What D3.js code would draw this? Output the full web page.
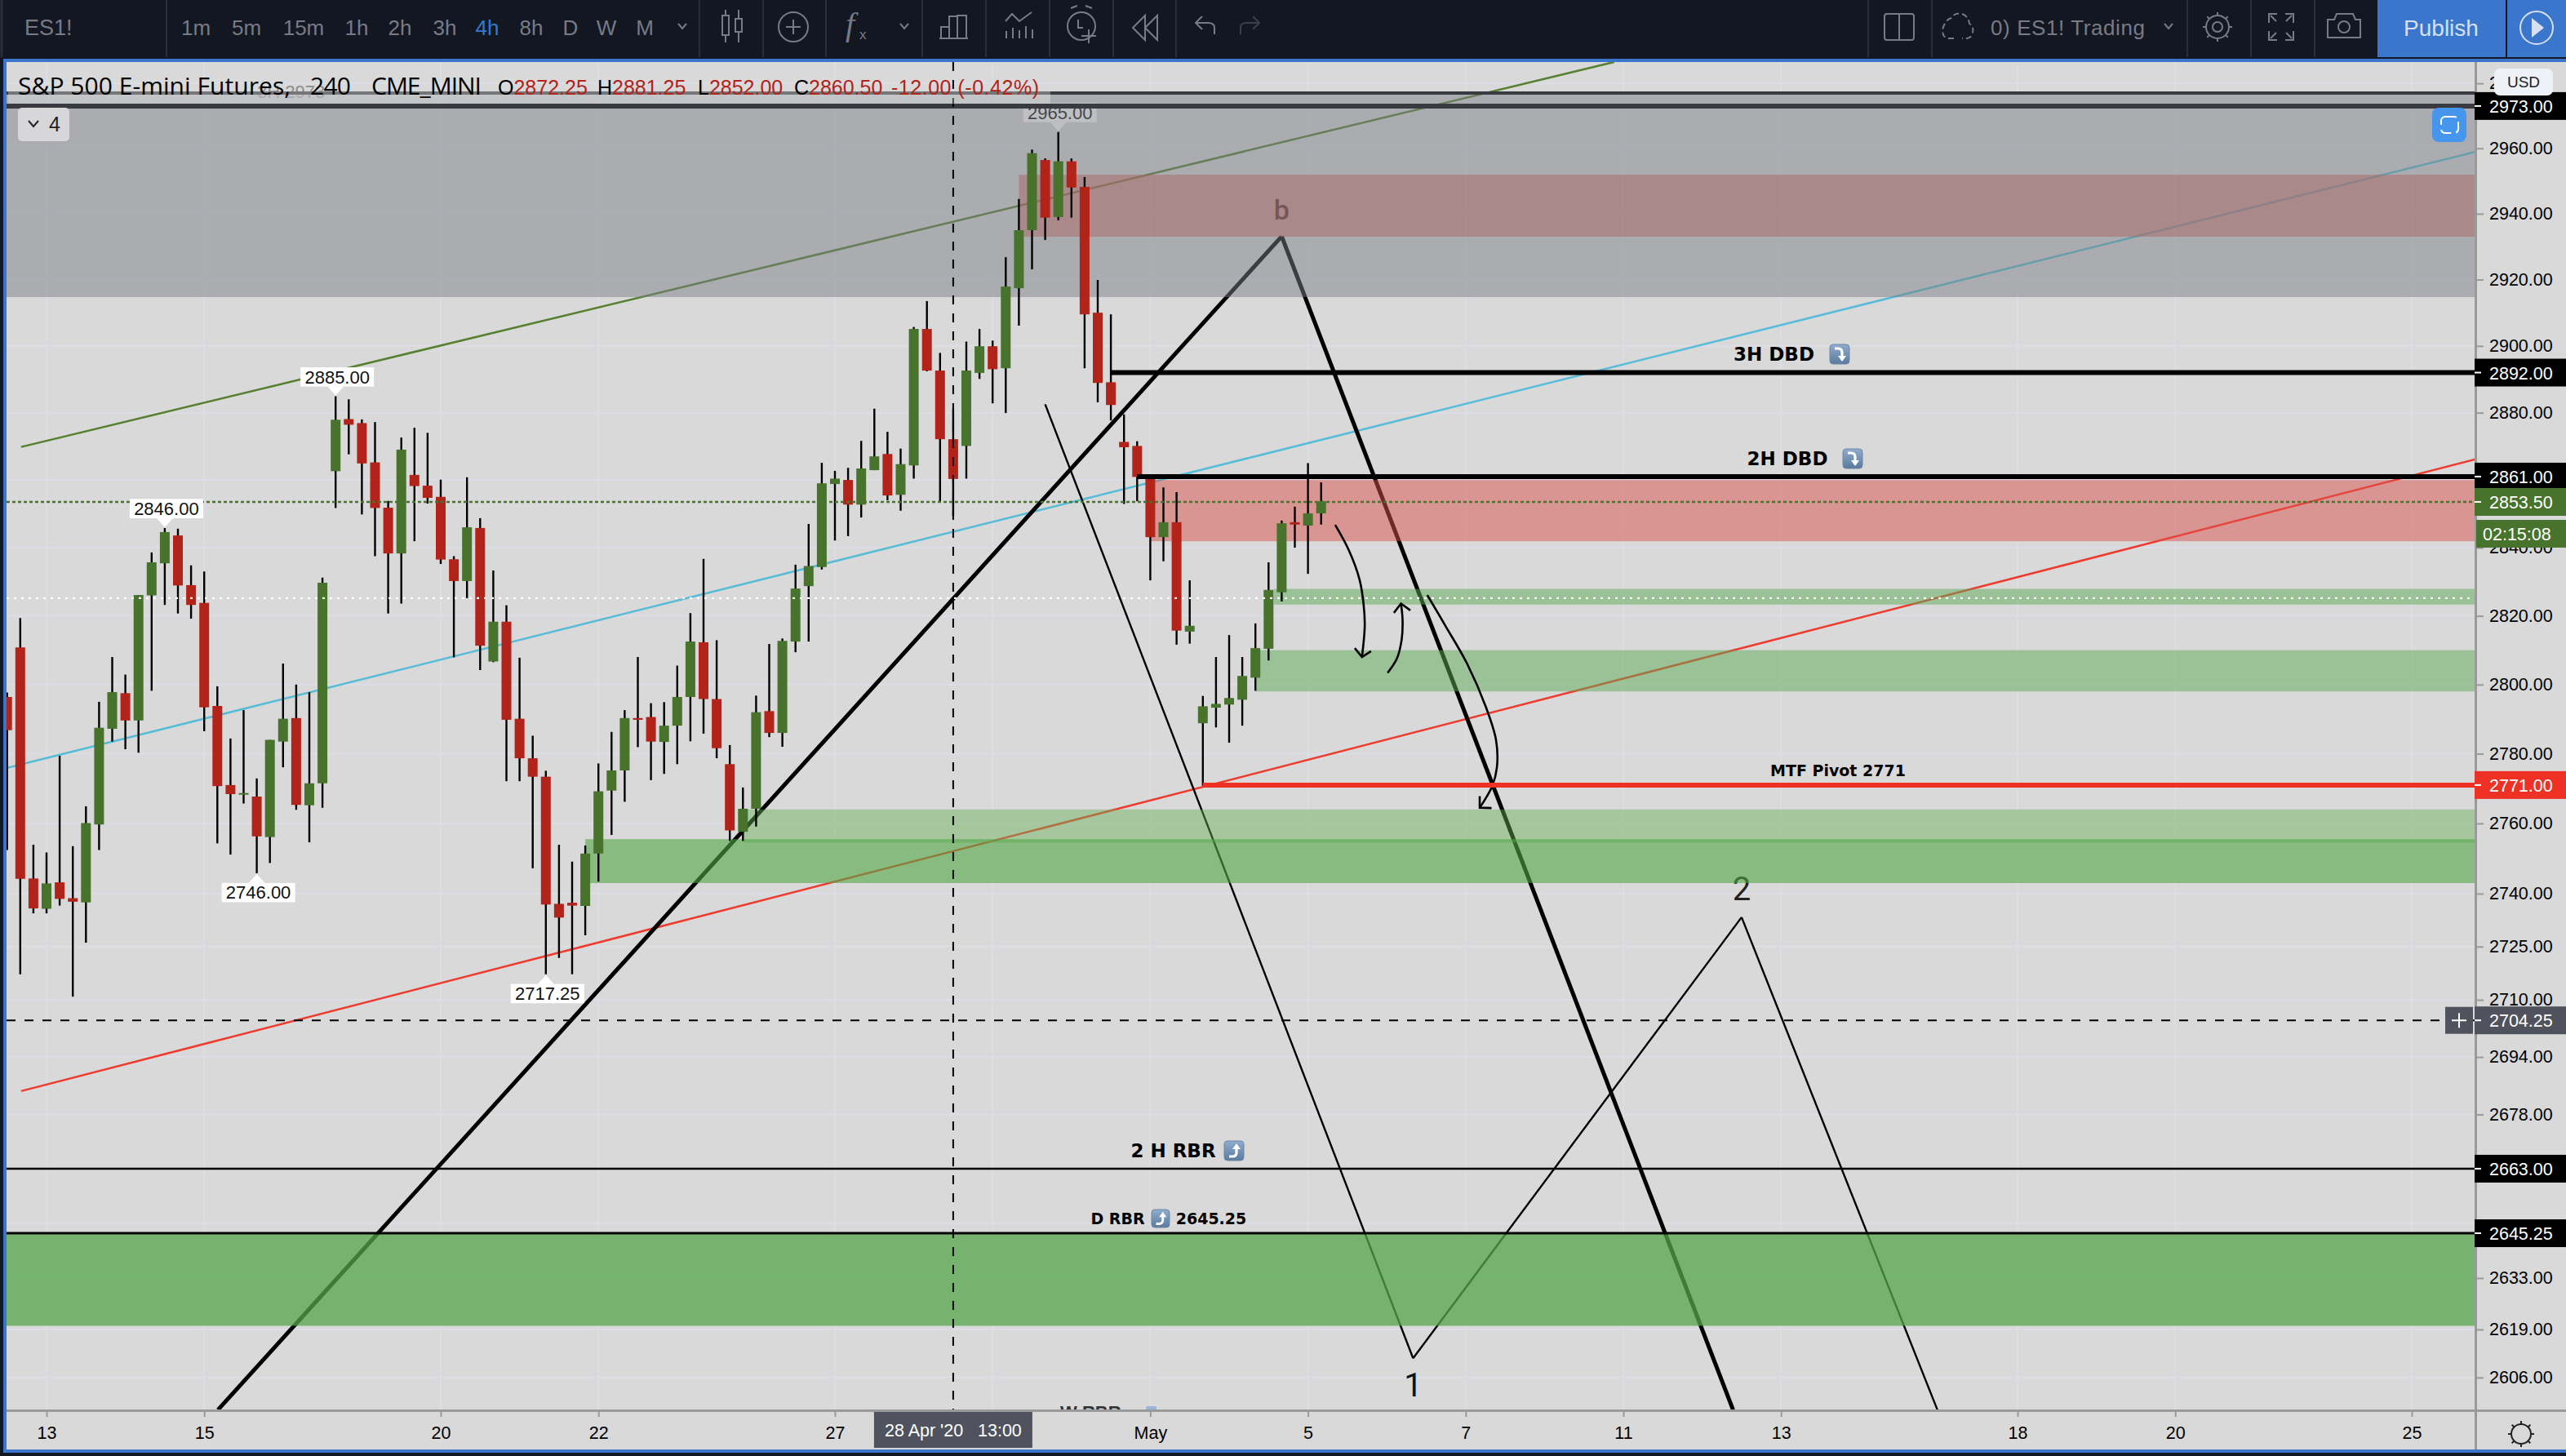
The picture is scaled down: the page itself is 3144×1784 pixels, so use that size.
<!DOCTYPE html>
<html><head><meta charset="utf-8">
<script src="https://cdn.jsdelivr.net/npm/d3@7"></script>
<style>html,body{margin:0;padding:0;background:#131722;overflow:hidden}svg{display:block;font-family:"Liberation Sans",Arial,sans-serif}</style>
</head><body><svg id="c" width="3144" height="1784"></svg>
<script>
const opens=[2796.4,2810.8,2744.3,2735.7,2743.2,2738.7,2737.5,2759.7,2787.2,2797.5,2789.6,2826,2835.4,2843.6,2829,2823.8,2793.8,2771,2768.5,2767.7,2756.1,2783.5,2790.3,2765.2,2771.5,2862.6,2878.1,2876.9,2865.2,2851.8,2838.3,2861.5,2858.3,2855,2836.6,2830.2,2845.8,2806.7,2818.3,2790.1,2778.7,2773.4,2737.1,2737.4,2736.5,2751.4,2769.4,2775.2,2790.3,2790.6,2783.4,2788.1,2796.4,2812.3,2795.8,2777,2757.6,2764.2,2792.3,2786,2812.5,2828.7,2834.3,2858.8,2860,2852.7,2862.9,2867.7,2855.6,2864.3,2905.1,2892.6,2872.1,2870.1,2891.9,2899.9,2893.3,2917.4,2935,2956.4,2939,2956,2948.2,2910,2889.1,2871.3,2870.1,2861.4,2843.1,2847.5,2815.4,2788.8,2793.3,2794.2,2795.6,2802,2810.4,2826.9,2847.5,2846.5,2850.1];
const highs=[2797.7,2819.4,2753.9,2751.7,2779.4,2753.5,2764.9,2795,2808,2802.9,2826.1,2838.6,2845.8,2845.6,2834.8,2833,2799.5,2784.4,2792.6,2772.9,2784,2806.1,2800,2797.8,2831.2,2884.9,2884,2878,2877.2,2853.8,2872.6,2875.5,2874,2860.1,2837.5,2860.8,2848.7,2833.3,2823.1,2807.8,2785.2,2775.1,2753.9,2749.1,2753.7,2777.2,2786.3,2792.6,2808,2794.6,2794.9,2805.5,2820.8,2836.7,2812.9,2782.5,2770.3,2796.8,2811.8,2813.4,2835,2847,2865.1,2862.7,2863.6,2871.6,2881.2,2874.3,2869.3,2905.7,2913.5,2897.9,2881,2901.3,2905.1,2901.6,2926.8,2944.5,2959.6,2956.9,2965,2956.9,2951.2,2919.9,2909.5,2879.5,2871.5,2861.6,2857.8,2856.4,2830.4,2796.7,2808,2814.4,2808,2817.8,2835.7,2848,2852.1,2865,2859.3];
const lows=[2752.4,2717.2,2734.4,2734.4,2736.6,2710.9,2726.1,2752.4,2783.5,2781.3,2780.3,2798.2,2823.2,2820.7,2819.2,2786.5,2754.3,2751.1,2765.7,2745.8,2748.7,2776.1,2763.9,2754.6,2764.5,2851.7,2867.6,2849.8,2837.5,2820.7,2823.6,2841.9,2853,2835.2,2807.9,2825.2,2804.2,2806.5,2772.1,2772.1,2747.2,2717.2,2721.8,2717.2,2728.2,2743.4,2756.7,2766.2,2781.9,2772.4,2774.2,2777,2783.6,2785.8,2778.7,2755,2755,2759.1,2784.8,2782,2809.4,2812.5,2833.6,2842.1,2843.4,2848.9,2862.9,2854,2850.9,2860.4,2892.4,2853.5,2849.4,2860.4,2890.1,2882.8,2879.9,2906.1,2923.1,2932,2938,2938.8,2893.3,2883.1,2877.7,2852.9,2853.7,2830.4,2836,2811.6,2811.9,2770.8,2787.6,2783.2,2788.1,2798.2,2807,2824.2,2840,2832.3,2846.8];
const closes=[2786.8,2744.2,2735.8,2742.9,2738.5,2737.7,2760.1,2787.5,2797.8,2789.6,2826.1,2835.7,2844.6,2828.9,2823.2,2793.4,2770.7,2768.4,2768.7,2756.3,2784,2790.1,2765.3,2771.5,2829.7,2877.9,2876.4,2864.9,2851.7,2838.3,2869,2858.2,2854.7,2836.5,2830.2,2846,2811.3,2818.3,2789.8,2778.7,2773.4,2736.9,2733.2,2736.6,2751.4,2769.2,2775.2,2790.3,2789.8,2783.5,2788.1,2796.4,2812.5,2795.8,2781.6,2758,2764.2,2792,2786,2812.7,2828,2834.6,2859,2860.4,2852.7,2863.4,2867,2855.4,2864.7,2905.1,2892.6,2872.1,2860.3,2892.6,2899.9,2893,2917.9,2935,2958.5,2938.8,2956,2948,2909.5,2888.9,2882.3,2869.7,2860.9,2843.1,2847.5,2815.7,2817.1,2793.7,2794.4,2796.1,2802.5,2810.6,2827.6,2847.2,2846.8,2850.1,2853.7];

const priceTicks=[2980,2960,2940,2920,2900,2880,2860,2840,2820,2800,2780,2760,2740,2725,2710,2694,2678,2663,2648,2633,2619,2606];
const coveredTicks=[2860,2663,2648];
const timeBars=[3,15,33,45,63,75,87,99,111,123,135,153,165,183];
const timeLabels=["13","15","20","22","27","","May","5","7","11","13","18","20","25"];

const bandStart=[77,87,96.4,95,56,44,-1];
const bandHigh=[2951.9,2860,2827.9,2810,2764,2755.5,2645];
const bandLow=[2933,2841.9,2823.3,2798,2754.5,2743,2620];
const bandFill=["rgba(218,82,76,.5)","rgba(218,82,76,.5)","rgba(93,169,83,.5)","rgba(93,169,83,.5)","rgba(104,175,84,.45)","rgba(80,167,67,.6)","rgba(83,165,73,.75)"];
const greyZone=[2976.8,2914.7];

const lineBar0=[1.07,-0.04,1.07,16.05,97,79,107,132];
const linePrice0=[2869.8,2775.9,2684.5,2597.3,2933.1,2882.5,2611.2,2733.3];
const lineBar1=[122.3,187.8,187.8,97,131.35,107,132,146.9];
const linePrice1=[2986.6,2958.9,2866.1,2933.1,2597.3,2611.2,2733.3,2597.3];
const lineColor=["#55802f","#57bcd7","#ee3b2e","#000","#000","#000","#000","#000"];
const lineWeight=[2.5,2.5,2.5,5,5,2.4,2.4,2.4];

const levelPrice=[2892,2861,2771,2663,2645.25];
const levelStart=[84,86,91,-1,-1];
const levelColor=["#000","#000","#ee3124","#000","#000"];
const levelWeight=[6,6,6,2.4,3];

const arrowBars=[[101.07,102.09,102.92,103.23,103.32,103.11],[105.06,105.77,106.13,106.2,106.08],[108.08,109.46,111.12,112.55,113.31,113.38,113.02,112.07]];
const arrowPrices=[[2846.7,2839.4,2830.7,2823.5,2817.1,2808],[2803.4,2807.6,2813.1,2818.7,2823.6],[2826.1,2817.1,2806,2793.4,2784,2776.1,2770.7,2764.5]];
const headBars=[[102.56,103.11,103.8],[105.54,106.08,106.79],[112.07,112.07,112.97]];
const headPrices=[[2810.6,2808,2809.7],[2820.9,2823.6,2821.6],[2767.8,2764.5,2764.4]];

const calloutBar=[25,12,19,41];
const calloutKind=["high","high","low","low"];
const calloutText=["2885.00","2846.00","2746.00","2717.25"];

const tagPrice=[2973,2892,2861,2853.5,2771,2704.25,2663,2645.25];
const tagFill=["#000","#000","#000","#47732d","#ee3124","#50535e","#000","#000"];

const crossBar=72, crossPrice=2704.25, lastPrice=2853.5, whitePrice=2825.2;
const topLines=[2977,2973];

const L=8,R=3032,T=76,B=1728;
const x=d3.scaleLinear().domain([0,183]).range([8.7,2955]);
const y=d3.scaleLog().domain([2606,2960]).range([1687.8,181.7]);
const svg=d3.select("#c");
const defs=svg.append("defs");
defs.append("clipPath").attr("id","pane").append("rect").attr("x",L).attr("y",T).attr("width",R-L).attr("height",B-T);
const grad=defs.append("linearGradient").attr("id","emoji").attr("x1",0).attr("y1",0).attr("x2",0).attr("y2",1);
grad.append("stop").attr("offset",0).attr("stop-color","#8fadcc");
grad.append("stop").attr("offset",1).attr("stop-color","#5a7a9f");

svg.append("rect").attr("width",3144).attr("height",1784).attr("fill","#131722");
svg.append("rect").attr("x",4).attr("y",72).attr("width",3140).attr("height",1708).attr("fill","#3a77cc");
svg.append("rect").attr("x",L).attr("y",T).attr("width",3144-L).attr("height",1776-T).attr("fill","#d9d9d9");

const pane=svg.append("g").attr("clip-path","url(#pane)");
pane.append("g").selectAll("line").data(priceTicks).join("line").attr("x1",L).attr("x2",R).attr("y1",d=>y(d)).attr("y2",d=>y(d)).attr("stroke","#dcdde5").attr("stroke-width",2);
pane.append("g").selectAll("line").data(timeBars).join("line").attr("x1",d=>x(d)).attr("x2",d=>x(d)).attr("y1",T).attr("y2",B).attr("stroke","#dcdde5").attr("stroke-width",2);

pane.append("text").attr("x",315).attr("y",120).attr("font-size",22).attr("fill","#8d8d90").text("3H 2973");

const tools=pane.append("g");
tools.selectAll("line").data(lineColor).join("line")
 .attr("x1",(d,i)=>x(lineBar0[i])).attr("y1",(d,i)=>y(linePrice0[i]))
 .attr("x2",(d,i)=>x(lineBar1[i])).attr("y2",(d,i)=>y(linePrice1[i]))
 .attr("stroke",d=>d).attr("stroke-width",(d,i)=>lineWeight[i]).attr("stroke-linejoin","round");
tools.append("text").attr("x",x(97)).attr("y",y(2933.1)-21).attr("text-anchor","middle").attr("font-size",34).attr("font-weight",500).attr("fill","#111").attr("font-family","Roboto").text("b");
tools.append("text").attr("x",x(107)).attr("y",1711).attr("text-anchor","middle").attr("font-size",40).attr("fill","#111").attr("font-family","Roboto").text("1");
tools.append("text").attr("x",x(132)).attr("y",1103).attr("text-anchor","middle").attr("font-size",40).attr("fill","#222").attr("font-family","Roboto").text("2");

pane.append("g").selectAll("rect").data(bandFill).join("rect")
 .attr("x",(d,i)=>x(bandStart[i])).attr("width",(d,i)=>R-x(bandStart[i]))
 .attr("y",(d,i)=>y(bandHigh[i])).attr("height",(d,i)=>y(bandLow[i])-y(bandHigh[i])).attr("fill",d=>d);

function callout(g,bar,kind,txt,price){
 const cx=x(bar), tip=kind==="high"?y(price)-1:y(price)+1, s=kind==="high"?-1:1;
 g.append("path").attr("d",`M${cx} ${tip}l-10 ${s*11}h20z`).attr("fill","#fff");
 const top=kind==="high"?tip-11-23.5:tip+11;
 g.append("rect").attr("x",cx+2-45).attr("y",top).attr("width",90).attr("height",23.5).attr("fill","#fff");
 g.append("text").attr("x",cx+2).attr("y",top+19.5).attr("text-anchor","middle").attr("font-size",22).attr("fill","#111").text(txt);
}
callout(pane,80,"high","2965.00",highs[80]);

pane.append("rect").attr("x",L).attr("width",R-L).attr("y",y(greyZone[0])).attr("height",y(greyZone[1])-y(greyZone[0])).attr("fill","rgba(122,124,130,.49)");
pane.append("g").selectAll("line").data(topLines).join("line").attr("x1",L).attr("x2",R).attr("y1",d=>y(d)).attr("y2",d=>y(d)).attr("stroke","#3a3b40").attr("stroke-width",(d,i)=>i?6:4);

const arrowLine=d3.line().x(d=>x(d[0])).y(d=>y(d[1])).curve(d3.curveCatmullRom);
const headLine=d3.line().x(d=>x(d[0])).y(d=>y(d[1]));
pane.append("g").selectAll("path").data(arrowBars).join("path").attr("fill","none").attr("stroke","#000").attr("stroke-width",2.6)
 .attr("d",(d,i)=>arrowLine(d3.zip(d,arrowPrices[i])));
pane.append("g").selectAll("path").data(headBars).join("path").attr("fill","none").attr("stroke","#000").attr("stroke-width",2.6)
 .attr("d",(d,i)=>headLine(d3.zip(d,headPrices[i])));

const bars=pane.append("g");
bars.selectAll("line").data(opens).join("line").attr("x1",(d,i)=>x(i)).attr("x2",(d,i)=>x(i))
 .attr("y1",(d,i)=>y(highs[i])).attr("y2",(d,i)=>y(lows[i])).attr("stroke","#000").attr("stroke-width",2.4);
bars.selectAll("rect").data(opens).join("rect").attr("x",(d,i)=>x(i)-6).attr("width",12)
 .attr("y",(d,i)=>y(Math.max(d,closes[i])))
 .attr("height",(d,i)=>Math.max(2,Math.abs(y(d)-y(closes[i]))))
 .attr("fill",(d,i)=>closes[i]>=d?"#47732d":"#b2231a");

pane.append("g").selectAll("line").data(levelPrice).join("line").attr("x1",(d,i)=>x(levelStart[i])).attr("x2",R)
 .attr("y1",d=>y(d)).attr("y2",d=>y(d)).attr("stroke",(d,i)=>levelColor[i]).attr("stroke-width",(d,i)=>levelWeight[i]);
pane.append("line").attr("x1",L).attr("x2",R).attr("y1",y(lastPrice)).attr("y2",y(lastPrice)).attr("stroke","#47732d").attr("stroke-width",2.4).attr("stroke-dasharray","4 3");
pane.append("line").attr("x1",L).attr("x2",R).attr("y1",y(whitePrice)).attr("y2",y(whitePrice)).attr("stroke","#fff").attr("stroke-width",2.4).attr("stroke-dasharray","3 6");

calloutBar.forEach((b,i)=>callout(pane,b,calloutKind[i],calloutText[i],calloutKind[i]==="high"?highs[b]:lows[b]));

function note(cx,cy,size,txt){
 pane.append("text").attr("x",cx).attr("y",cy+size*.36).attr("text-anchor","middle").attr("font-size",size).attr("font-weight","bold").attr("fill","#000").attr("font-family","DejaVu Sans").text(txt);
}
function emoji(cx,cy,s,up){
 pane.append("rect").attr("x",cx-s/2).attr("y",cy-s/2).attr("width",s).attr("height",s).attr("rx",4).attr("fill","url(#emoji)").attr("stroke","#6d87a6").attr("stroke-width",1);
 const k=s/24;
 const g=pane.append("g").attr("transform",`translate(${cx},${cy}) scale(${k})`);
 if(up){
  g.append("path").attr("d","M-6 7h4q5 0 5-5v-5").attr("fill","none").attr("stroke","#fff").attr("stroke-width",3.2);
  g.append("path").attr("d","M-2 -2l5 -7 5 7z").attr("fill","#fff");
 }else{
  g.append("path").attr("d","M-6 -7h4q5 0 5 5v5").attr("fill","none").attr("stroke","#fff").attr("stroke-width",3.2);
  g.append("path").attr("d","M-2 2l5 7 5 -7z").attr("fill","#fff");
 }
}
note(2173.5,434,23,"3H DBD"); emoji(2254,434,24,false);
note(2190,562,23,"2H DBD"); emoji(2270,562,24,false);
note(2252,944,19,"MTF Pivot 2771");
note(1437.5,1410,23,"2 H RBR"); emoji(1512,1410,24,true);
note(1369.5,1493,19,"D RBR"); emoji(1422,1493,22,true);
note(1484,1493,19,"2645.25");
pane.append("text").attr("x",1299).attr("y",1738).attr("font-size",22).attr("font-weight","bold").attr("fill","#333").text("W RBR");
pane.append("rect").attr("x",1404).attr("y",1723).attr("width",13).attr("height",10).attr("rx",2).attr("fill","#9bb6d6");

pane.append("line").attr("x1",x(crossBar)).attr("x2",x(crossBar)).attr("y1",T).attr("y2",B).attr("stroke","#000").attr("stroke-width",2).attr("stroke-dasharray","11 11");
pane.append("line").attr("x1",L).attr("x2",R).attr("y1",y(crossPrice)).attr("y2",y(crossPrice)).attr("stroke","#000").attr("stroke-width",2).attr("stroke-dasharray","11 11");

svg.append("rect").attr("x",10).attr("y",y(topLines[0])-2).attr("width",1277).attr("height",15).attr("fill","rgba(255,255,255,.3)");
const legendHead=["S&P 500 E-mini Futures,","240","CME_MINI"], legendHeadX=[22,380,455], legendHeadW=[334,50,135];
legendHead.forEach((t,i)=>svg.append("text").attr("x",legendHeadX[i]).attr("y",116).attr("font-size",30).attr("fill","#000").attr("textLength",legendHeadW[i]).attr("font-family","Open Sans").text(t));
const legendX=[610,732,855,973], legendK=["O","H","L","C"], legendV=["2872.25","2881.25","2852.00","2860.50"];
legendK.forEach((k,i)=>{
 const t=svg.append("text").attr("x",legendX[i]).attr("y",116).attr("font-size",25).attr("fill","#000").text(k);
 t.append("tspan").attr("fill","#b2231a").text(legendV[i]);
});
svg.append("text").attr("x",1092).attr("y",116).attr("font-size",25).attr("fill","#b2231a").attr("textLength",181).text("-12.00 (-0.42%)");

svg.append("rect").attr("x",22).attr("y",132).attr("width",63).attr("height",41).attr("rx",5).attr("fill","#d7d7da");
svg.append("path").attr("d","M35 148l6 7 6-7").attr("fill","none").attr("stroke","#222").attr("stroke-width",2);
svg.append("text").attr("x",60).attr("y",161).attr("font-size",25).attr("fill","#222").text("4");
svg.append("rect").attr("x",2980).attr("y",132).attr("width",42).attr("height",42).attr("rx",8).attr("fill","#4696ee");
svg.append("rect").attr("x",2991).attr("y",143).attr("width",21).attr("height",20).attr("rx",5).attr("fill","none").attr("stroke","#fff").attr("stroke-width",2).attr("stroke-dasharray","14 6");

svg.append("rect").attr("x",R).attr("y",T).attr("width",3).attr("height",1776-T).attr("fill","#9a9a9a");
svg.append("rect").attr("x",L).attr("y",B-1).attr("width",3144-L).attr("height",3).attr("fill","#9a9a9a");
const ya=svg.append("g").attr("transform",`translate(${R+1},0)`).call(d3.axisRight(y).tickValues(priceTicks).tickSize(10).tickPadding(7).tickFormat(d=>coveredTicks.includes(d)?"":d3.format(".2f")(d)));
ya.select(".domain").remove();
ya.selectAll("line").attr("stroke","#9a9a9a").attr("stroke-width",2);
ya.selectAll("text").attr("font-size",21.5).attr("fill","#000").attr("font-family","Liberation Sans");
const xa=svg.append("g").attr("transform",`translate(0,${B})`).call(d3.axisBottom(x).tickValues(timeBars).tickSize(8).tickPadding(12).tickFormat((d,i)=>timeLabels[i]));
xa.select(".domain").remove();
xa.selectAll("line").attr("stroke","#9a9a9a").attr("stroke-width",2);
xa.selectAll("text").attr("font-size",21.5).attr("fill","#000").attr("font-family","Liberation Sans");

tagPrice.forEach((p,i)=>{
 const c=y(p);
 svg.append("rect").attr("x",R).attr("y",c-17).attr("width",112).attr("height",34).attr("fill",tagFill[i]);
 svg.append("rect").attr("x",R).attr("y",c-1).attr("width",8).attr("height",2).attr("fill","#fff");
 svg.append("text").attr("x",3050).attr("y",c+8).attr("font-size",21.5).attr("fill","#fff").text(d3.format(".2f")(p));
});
svg.append("rect").attr("x",3034).attr("y",637).attr("width",110).attr("height",34).attr("fill","#47732d");
svg.append("text").attr("x",3042).attr("y",662).attr("font-size",21.5).attr("fill","#fff").text("02:15:08");
const cy=y(crossPrice);
svg.append("rect").attr("x",2996).attr("y",cy-16.5).attr("width",34).attr("height",33).attr("fill","#50535e");
svg.append("path").attr("d",`M3004 ${cy}h18M3013 ${cy-9}v18`).attr("stroke","#fff").attr("stroke-width",2);
svg.append("rect").attr("x",3056).attr("y",84).attr("width",72).attr("height",33).attr("rx",7).attr("fill","#eef1f8");
svg.append("text").attr("x",3092).attr("y",107).attr("text-anchor","middle").attr("font-size",19).attr("fill","#222").text("USD");
svg.append("rect").attr("x",x(crossBar)-97).attr("y",1730).attr("width",194).attr("height",44).attr("fill","#50535e");
svg.append("text").attr("x",x(crossBar)).attr("y",1760).attr("text-anchor","middle").attr("font-size",21.5).attr("fill","#fff").attr("xml:space","preserve").text("28 Apr '20   13:00");
const gear=svg.append("g").attr("transform","translate(3089,1757)").attr("stroke","#222").attr("fill","none").attr("stroke-width",2);
gear.append("circle").attr("r",12);
d3.range(8).forEach(k=>{const a=k*Math.PI/4;gear.append("line").attr("x1",12*Math.cos(a)).attr("y1",12*Math.sin(a)).attr("x2",16*Math.cos(a)).attr("y2",16*Math.sin(a));});

const tb=svg.append("g");
const grey="#787b86";
tb.selectAll("line").data([204,857,935,1012,1130,1208,1286,1364,1441,2289,2367,2680,2758,2836]).join("line").attr("x1",d=>d).attr("x2",d=>d).attr("y1",0).attr("y2",70).attr("stroke","#2a2e39").attr("stroke-width",2);
tb.append("line").attr("x1",2).attr("x2",2).attr("y1",0).attr("y2",70).attr("stroke","#2a2e39").attr("stroke-width",3);
tb.append("text").attr("x",30).attr("y",43).attr("font-size",27).attr("fill",grey).text("ES1!");
const tfx=[240,302,372,437,490,545,597,651,699,743,790], tft=["1m","5m","15m","1h","2h","3h","4h","8h","D","W","M"];
tft.forEach((t,i)=>tb.append("text").attr("x",tfx[i]).attr("y",43).attr("text-anchor","middle").attr("font-size",26).attr("fill",t==="4h"?"#2f7ccf":grey).text(t));
const ico=tb.append("g").attr("fill","none").attr("stroke",grey).attr("stroke-width",2);
const chev=cx=>ico.append("path").attr("d",`M${cx-5} 29l5 6 5-6`);
chev(836);chev(1108);chev(2657);
ico.append("path").attr("d","M889 12v40M905 12v40");
ico.append("rect").attr("x",885).attr("y",19).attr("width",8).attr("height",24).attr("fill","#131722");
ico.append("rect").attr("x",901).attr("y",23).attr("width",8).attr("height",16).attr("fill","#131722");
ico.append("circle").attr("cx",972).attr("cy",33).attr("r",18);
ico.append("path").attr("d","M963 33h18M972 24v18");
tb.append("text").attr("x",1036).attr("y",43).attr("font-size",40).attr("font-style","italic").attr("fill",grey).attr("font-family","Liberation Serif").text("f");
tb.append("text").attr("x",1053).attr("y",48).attr("font-size",17).attr("fill",grey).text("x");
ico.append("path").attr("d","M1153 46V33h10v13M1163 46V20h10v26M1173 46V19h11v27M1151 47h35");
ico.append("path").attr("d","M1232 26l8-9 9 9 15-11M1233 47v-9M1241 47V34M1249 47V37M1257 47V32M1265 47v-11");
ico.append("circle").attr("cx",1325).attr("cy",32).attr("r",17);
ico.append("path").attr("d","M1312 10l8-3M1330 7l8 3M1321 24v10h6M1325 44h18M1334 36v17");
ico.append("path").attr("d","M1403 19l-15 15 15 15zM1418 19l-15 15 15 15z");
ico.append("path").attr("d","M1488 42V34q0-6-8-6h-15m8-8l-8 8 8 8");
tb.append("path").attr("d","M1520 42V34q0-6 8-6h15m-8-8l8 8-8 8").attr("fill","none").attr("stroke","#3b3f4a").attr("stroke-width",2);
ico.append("rect").attr("x",2309).attr("y",17).attr("width",36).attr("height",32).attr("rx",3);
ico.append("path").attr("d","M2327 17v32");
ico.append("path").attr("d","M2394 47h-8q-8-3-5-14q3-9 10-11q4-7 13-5q8 3 9 12q7 4 3 14q-2 4-6 4h-6").attr("stroke-dasharray","7 4");
tb.append("text").attr("x",2439).attr("y",43).attr("font-size",26).attr("fill",grey).attr("textLength",189).text("0) ES1! Trading");
const gearT=ico.append("g").attr("transform","translate(2717,33)");
gearT.append("circle").attr("r",6);gearT.append("circle").attr("r",14);
d3.range(8).forEach(k=>{const a=k*Math.PI/4;gearT.append("line").attr("x1",14*Math.cos(a)).attr("y1",14*Math.sin(a)).attr("x2",18*Math.cos(a)).attr("y2",18*Math.sin(a));});
ico.append("path").attr("d","M2780 28V17h10M2810 28V17h-10M2780 38v11h10M2810 38v11h-10M2782 19l7 7M2808 19l-7 7M2782 47l7-7M2808 47l-7-7");
ico.append("path").attr("d","M2852 24h8l3-7h20l3 7h6v22h-40z");
ico.append("circle").attr("cx",2872).attr("cy",33).attr("r",7);
tb.append("rect").attr("x",2913).attr("y",0).attr("width",231).attr("height",70).attr("fill","#3a77cc");
tb.append("line").attr("x1",3071).attr("x2",3071).attr("y1",0).attr("y2",70).attr("stroke","#131722").attr("stroke-width",2);
tb.append("text").attr("x",2991).attr("y",44).attr("text-anchor","middle").attr("font-size",28).attr("fill","#d7e0f2").text("Publish");
tb.append("circle").attr("cx",3108).attr("cy",34).attr("r",20).attr("fill","none").attr("stroke","#d7e0f2").attr("stroke-width",2);
tb.append("path").attr("d","M3102 22l15 12-15 12z").attr("fill","#d7e0f2");
</script></body></html>
